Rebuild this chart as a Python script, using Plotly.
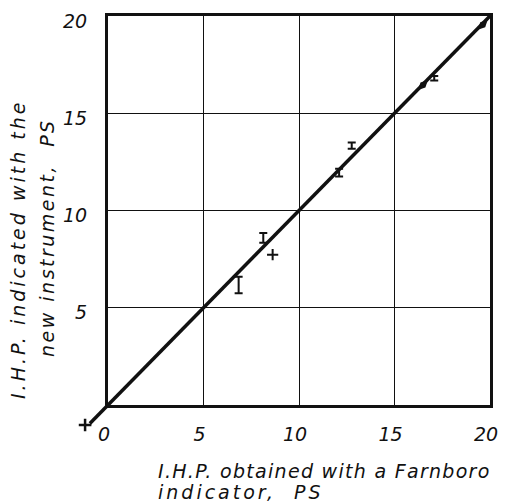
import plotly.graph_objects as go

# Indicated horsepower, PS: Farnborough indicator (x) vs. new instrument (y)
bar_x = [6.84, 8.13, 12.10, 12.76, 17.08]
bar_y = [6.17, 8.59, 11.95, 13.34, 16.80]
bar_err = [0.43, 0.25, 0.20, 0.16, 0.12]

cross_x = [8.62]
cross_y = [7.73]

line_pts_x = [16.49, 19.62]
line_pts_y = [16.45, 19.55]

origin_mark_x = [-1.2]
origin_mark_y = [-1.03]

diag = [-0.95, 20.0]

tick_vals = [0, 5, 10, 15, 20]
tick_text = ["0", "5", "10", "15", "20"]

W, H = 506, 502
ML, MR, MT, MB = 60, 8, 8, 70
PW, PH = W - ML - MR, H - MT - MB

# frame pixel positions of 0 and 20 on each axis
X0, X20 = 108, 490
Y0, Y20 = 405, 16

dom_x = [(X0 - ML) / PW, (X20 - ML) / PW]
dom_y = [(H - MB - Y0) / PH, (H - MB - Y20) / PH]

# second subplot spanning the full plot area at the same scale,
# so the diagonal and the origin mark may run outside the frame
sx = (X20 - X0) / 20.0
sy = (Y0 - Y20) / 20.0
rng_x2 = [0 - (X0 - ML) / sx, 20 + (W - MR - X20) / sx]
rng_y2 = [0 - (H - MB - Y0) / sy, 20 + (Y20 - MT) / sy]

FONT = "DejaVu Sans"
ink = "#111111"

fig = go.Figure()

fig.add_trace(go.Scatter(
    x=line_pts_x, y=line_pts_y, mode="markers",
    marker=dict(symbol="diamond-tall", size=10, angle=45, color=ink),
    showlegend=False, cliponaxis=False))

fig.add_trace(go.Scatter(
    x=bar_x, y=bar_y, mode="markers",
    marker=dict(size=1, color=ink),
    error_y=dict(type="data", array=bar_err, color=ink, thickness=2, width=4),
    showlegend=False, cliponaxis=False))

fig.add_trace(go.Scatter(
    x=cross_x, y=cross_y, mode="markers",
    marker=dict(symbol="cross-thin", size=8, line=dict(color=ink, width=2)),
    showlegend=False, cliponaxis=False))

fig.add_trace(go.Scatter(
    x=diag, y=diag, xaxis="x2", yaxis="y2", mode="lines",
    line=dict(color=ink, width=3.5), hoverinfo="skip", showlegend=False))

fig.add_trace(go.Scatter(
    x=origin_mark_x, y=origin_mark_y, xaxis="x2", yaxis="y2", mode="markers",
    marker=dict(symbol="cross-thin", size=9, line=dict(color=ink, width=2.5)),
    showlegend=False, cliponaxis=False))

tick_font = dict(family=FONT, size=19, color=ink, style="italic")

fig.update_layout(
    width=W, height=H,
    margin=dict(l=ML, r=MR, t=MT, b=MB),
    paper_bgcolor="white", plot_bgcolor="rgba(0,0,0,0)",
    xaxis=dict(domain=dom_x, range=[0, 20], tickvals=tick_vals, ticktext=tick_text,
               showgrid=True, gridcolor=ink, gridwidth=1.2, zeroline=False,
               showline=True, linecolor=ink, linewidth=3, mirror=True, automargin=False,
               ticks="", ticklabelstandoff=10, ticklabelshift=-4,
               tickfont=tick_font, anchor="y"),
    yaxis=dict(domain=dom_y, range=[0, 20], tickvals=tick_vals[1:], ticktext=tick_text[1:],
               showgrid=True, gridcolor=ink, gridwidth=1.2, zeroline=False,
               showline=True, linecolor=ink, linewidth=3, mirror=True, automargin=False,
               ticks="", ticklabelstandoff=14, ticklabelshift=5,
               tickfont=tick_font, anchor="x"),
    xaxis2=dict(domain=[0, 1], range=rng_x2, visible=False, anchor="y2", automargin=False),
    yaxis2=dict(domain=[0, 1], range=rng_y2, visible=False, anchor="x2", automargin=False),
)


def px_x(p):
    return (p - ML) / PW


def px_y(p):
    return (H - MB - p) / PH


def spaced(s, ls):
    return f'<span style="letter-spacing:{ls}px">{s}</span>'


title_font = dict(family=FONT, size=19, color=ink, style="italic")

fig.add_annotation(text=spaced("I.H.P. obtained with a Farnboro", 1.3),
                   xref="paper", yref="paper", x=px_x(156), y=px_y(471),
                   xanchor="left", yanchor="middle", showarrow=False, font=title_font)
fig.add_annotation(text=spaced("indicator,  PS", 3.0),
                   xref="paper", yref="paper", x=px_x(156), y=px_y(492),
                   xanchor="left", yanchor="middle", showarrow=False, font=title_font)

fig.add_annotation(text=spaced("I.H.P. indicated with the", 3.0),
                   xref="paper", yref="paper", x=px_x(18), y=px_y(250),
                   xanchor="center", yanchor="middle", textangle=-90, showarrow=False,
                   font=title_font)
fig.add_annotation(text=spaced("new instrument,  PS", 2.5),
                   xref="paper", yref="paper", x=px_x(47), y=px_y(238),
                   xanchor="center", yanchor="middle", textangle=-90, showarrow=False,
                   font=title_font)

fig.write_html("out.html")
